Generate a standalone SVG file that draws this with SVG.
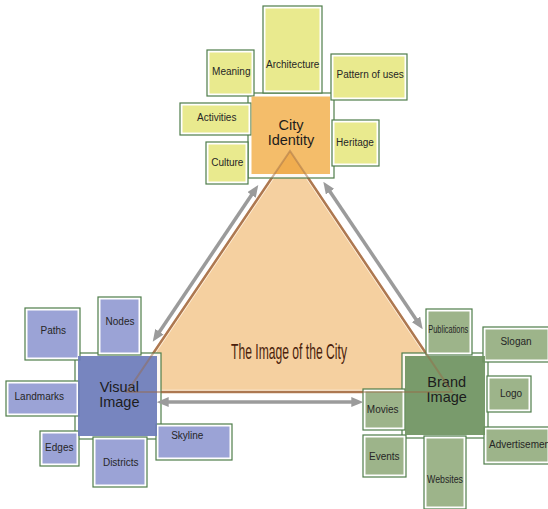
<svg xmlns="http://www.w3.org/2000/svg" width="548" height="509" viewBox="0 0 548 509">
<style>
.fr{fill:#fff;stroke:#4f7d4a;stroke-width:1.2}
.y{fill:#e9ea8e}
.b{fill:#9ba3d6}
.g{fill:#9db48a}
.t{font-family:"Liberation Sans",Arial,sans-serif;font-size:10px;fill:#262626;text-anchor:middle}
.s{text-anchor:start}
.m{font-size:14.5px;fill:#1c1c1c}
.ar{stroke:#9b9b9b;stroke-width:3.5;fill:none;marker-start:url(#ah);marker-end:url(#ah)}
</style>
<defs>
<marker id="ah" viewBox="0 0 12 10" refX="2" refY="5" markerWidth="12" markerHeight="10" markerUnits="userSpaceOnUse" orient="auto-start-reverse">
<path d="M0,0 L12,5 L0,10 z" fill="#9b9b9b"/>
</marker>
<clipPath id="cityclip"><rect x="251.5" y="96.5" width="78.5" height="77.5"/></clipPath>
</defs>
<rect width="548" height="509" fill="#fff"/>

<!-- triangle body -->
<g id="triangle">
<polygon points="290,151 127,392 452,392" fill="#f5d0a0" stroke="#bd845a" stroke-width="2.5"/>
<polygon points="290,154.1 130.4,390.2 448.7,390.2" fill="none" stroke="#fff" stroke-width="1" stroke-opacity="0.6"/>
<text x="289" y="359" font-family="'Liberation Sans',Arial,sans-serif" font-size="22.5" fill="#4b1f0c" text-anchor="middle" textLength="116" lengthAdjust="spacingAndGlyphs">The Image of the City</text>
</g>

<!-- main box frames -->
<g id="frames">
<rect class="fr" x="248" y="93" width="86" height="85" fill-opacity="0.85"/>
<rect class="fr" x="75" y="353" width="86" height="86" fill-opacity="0.85"/>
<rect class="fr" x="402" y="353" width="86" height="85" fill-opacity="0.85"/>
</g>

<!-- City identity satellites -->
<g id="architecture"><rect class="fr" x="263" y="6" width="59" height="87"/><rect class="y" x="265.5" y="8.5" width="54" height="82"/><text class="t" x="292.7" y="68.3">Architecture</text></g>
<g id="meaning"><rect class="fr" x="207" y="50" width="47" height="46"/><rect class="y" x="209.5" y="52.5" width="42" height="41"/><text class="t" x="231.3" y="75">Meaning</text></g>
<g id="pattern"><rect class="fr" x="331" y="54" width="76" height="46"/><rect class="y" x="333.5" y="56.5" width="71" height="41"/><text class="t s" x="336.5" y="78.3">Pattern of uses</text></g>
<g id="activities"><rect class="fr" x="180" y="103" width="71" height="32"/><rect class="y" x="182.5" y="105.5" width="66" height="27"/><text class="t" x="216.7" y="120.7">Activities</text></g>
<g id="heritage"><rect class="fr" x="332" y="120" width="47" height="46"/><rect class="y" x="334.5" y="122.5" width="42" height="41"/><text class="t" x="355" y="145.7">Heritage</text></g>
<g id="culture"><rect class="fr" x="206" y="142" width="42" height="42"/><rect class="y" x="208.5" y="144.5" width="37" height="37"/><text class="t" x="227.3" y="165.7">Culture</text></g>

<!-- Visual image satellites -->
<g id="paths"><rect class="fr" x="25" y="308" width="55" height="52"/><rect class="b" x="27.5" y="310.5" width="50" height="47"/><text class="t" x="53.3" y="334">Paths</text></g>
<g id="nodes"><rect class="fr" x="98" y="297" width="43" height="58"/><rect class="b" x="100.5" y="299.5" width="38" height="53"/><text class="t" x="120" y="325.3">Nodes</text></g>
<g id="landmarks"><rect class="fr" x="6" y="381" width="73" height="35"/><rect class="b" x="8.5" y="383.5" width="68" height="30"/><text class="t" x="39.3" y="400">Landmarks</text></g>
<g id="edges"><rect class="fr" x="40" y="431" width="39" height="35"/><rect class="b" x="42.5" y="433.5" width="34" height="30"/><text class="t" x="59.3" y="451.3">Edges</text></g>
<g id="districts"><rect class="fr" x="93" y="437" width="54" height="50"/><rect class="b" x="95.5" y="439.5" width="49" height="45"/><text class="t" x="120.7" y="466">Districts</text></g>
<g id="skyline"><rect class="fr" x="156" y="424" width="76" height="36"/><rect class="b" x="158.5" y="426.5" width="71" height="31"/><text class="t" x="187.3" y="439">Skyline</text></g>

<!-- Brand image satellites -->
<g id="publications"><rect class="fr" x="426" y="309" width="46" height="46"/><rect class="g" x="428.5" y="311.5" width="41" height="41"/><text class="t" x="448.3" y="332.7" textLength="40" lengthAdjust="spacingAndGlyphs">Publications</text></g>
<g id="slogan"><rect class="fr" x="483" y="327" width="67" height="35"/><rect class="g" x="485.5" y="329.5" width="62" height="30"/><text class="t" x="516" y="345.3">Slogan</text></g>
<g id="logo"><rect class="fr" x="487" y="376" width="44" height="36"/><rect class="g" x="489.5" y="378.5" width="39" height="31"/><text class="t" x="511" y="397.3">Logo</text></g>
<g id="advertisement"><rect class="fr" x="484" y="427" width="66" height="37"/><rect class="g" x="486.5" y="429.5" width="61" height="32"/><text class="t s" x="489" y="448.3">Advertisement</text></g>
<g id="movies"><rect class="fr" x="363" y="389" width="42" height="41"/><rect class="g" x="365.5" y="391.5" width="37" height="36"/><text class="t" x="382.7" y="412.7">Movies</text></g>
<g id="events"><rect class="fr" x="363" y="435" width="43" height="42"/><rect class="g" x="365.5" y="437.5" width="38" height="37"/><text class="t" x="384.3" y="460">Events</text></g>
<g id="websites"><rect class="fr" x="424" y="436" width="42" height="73"/><rect class="g" x="426.5" y="438.5" width="37" height="68"/><text class="t" x="445" y="483.3" textLength="36" lengthAdjust="spacingAndGlyphs">Websites</text></g>

<!-- main boxes -->
<g id="city-identity">
<rect x="251.5" y="96.5" width="78.5" height="77.5" fill="#f4bd6a"/>
<polygon points="290,151 127,392 452,392" fill="#eb9a2e" fill-opacity="0.45" clip-path="url(#cityclip)"/>
<text class="t m" x="291" y="130">City</text><text class="t m" x="291" y="145">Identity</text>
</g>
<g id="visual-image">
<rect x="78" y="356" width="79" height="80" fill="#6b7bba" fill-opacity="0.92"/>
<text class="t m" x="119.3" y="391.5">Visual</text><text class="t m" x="119.3" y="406.5">Image</text>
</g>
<g id="brand-image">
<rect x="405" y="356" width="80" height="79" fill="#6e925f" fill-opacity="0.92"/>
<text class="t m" x="446.7" y="386.5">Brand</text><text class="t m" x="446.7" y="401.5">Image</text>
</g>

<!-- triangle edge seen through boxes -->
<polygon points="290,151 127,392 452,392" fill="none" stroke="#9a6a48" stroke-width="2" stroke-opacity="0.45"/>

<!-- connectors -->
<g id="connectors">
<line class="ar" x1="158.3" y1="333.4" x2="252.7" y2="193.3"/>
<line class="ar" x1="328.9" y1="190" x2="417.1" y2="321"/>
<line class="ar" x1="166.7" y1="402" x2="353.3" y2="402"/>
</g>
</svg>
